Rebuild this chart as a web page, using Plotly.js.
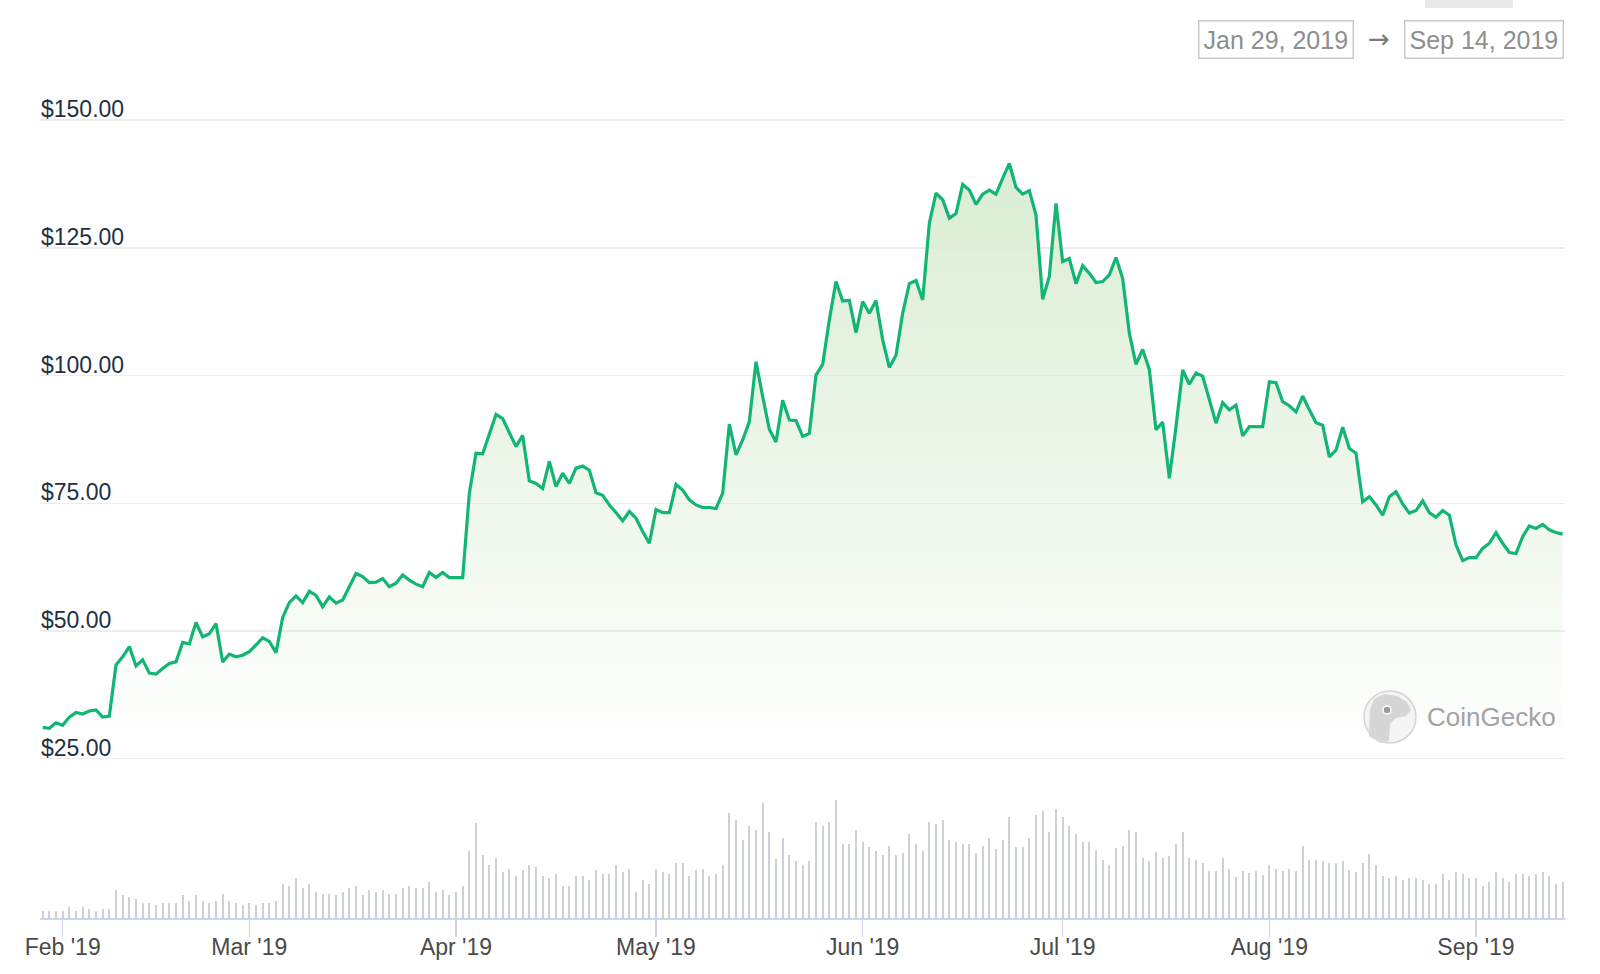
<!DOCTYPE html>
<html><head><meta charset="utf-8">
<script src="https://cdn.plot.ly/plotly-3.0.1.min.js"></script>
<style>html,body{margin:0;padding:0;background:#fff;} #chart{width:1600px;height:974px;}</style>
</head><body><div id="chart"></div>
<script>
// ---- data ----
const startDate = '2019-01-29';   // first daily point; one value per day
const prices = [
 31.2,31.0,32.1,31.6,33.2,34.1,33.8,34.4,34.6,33.2,33.4,
 43.4,45.0,47.0,43.2,44.4,41.8,41.6,42.7,43.7,44.0,
 47.8,47.5,51.7,48.9,49.5,51.5,44.0,45.5,45.0,45.3,
 46.0,47.3,48.7,48.0,45.8,52.7,55.6,56.9,55.6,57.8,
 57.0,54.8,56.7,55.5,56.1,58.7,61.3,60.7,59.5,59.6,
 60.3,58.7,59.4,61.0,60.0,59.2,58.7,61.5,60.5,61.5,
 60.5,60.5,60.5,77.0,84.8,84.7,88.4,92.4,91.6,89.0,
 86.1,88.3,79.4,78.9,77.9,83.2,78.3,80.9,78.9,81.9,
 82.3,81.5,77.1,76.6,74.7,73.2,71.6,73.4,72.1,69.5,
 67.2,73.8,73.2,73.2,78.7,77.6,75.7,74.7,74.2,74.2,
 74.0,77.0,90.5,84.5,87.4,91.0,102.7,95.9,89.5,87.0,
 95.2,91.3,91.2,88.1,88.7,100.1,102.2,110.9,118.4,114.6,
 114.7,108.4,114.5,112.2,114.7,107.0,101.6,104.0,112.2,118.0,
 118.6,114.8,129.8,135.7,134.4,130.8,131.7,137.4,136.3,133.5,
 135.5,136.3,135.5,138.6,141.5,136.8,135.5,136.2,131.4,114.9,
 119.4,133.7,122.3,122.9,118.0,121.5,120.0,118.2,118.4,119.7,
 123.1,119.0,108.3,102.2,105.1,101.2,89.4,90.9,79.9,90.0,
 101.1,98.3,100.5,99.9,95.2,90.7,94.7,93.3,94.2,88.2,
 90.0,90.0,90.0,98.8,98.6,94.9,94.1,92.9,96.0,93.3,
 90.8,90.3,84.1,85.4,89.9,85.8,84.8,75.3,76.3,74.7,
 72.7,76.3,77.3,74.9,73.1,73.6,75.5,73.2,72.3,73.6,
 72.7,66.9,63.8,64.4,64.4,66.2,67.2,69.3,67.2,65.4,
 65.2,68.5,70.6,70.1,70.9,69.8,69.3,69.0
];
// daily volume, billions USD
const volumes = [
 0.35,0.35,0.35,0.35,0.55,0.35,0.55,0.45,0.35,0.45,0.45,
 1.4,1.15,1.05,0.95,0.75,0.75,0.65,0.75,0.75,0.75,
 1.15,0.85,1.15,0.85,0.75,0.85,1.2,0.85,0.75,0.65,
 0.75,0.65,0.75,0.75,0.85,1.7,1.6,2.0,1.5,1.7,
 1.3,1.2,1.2,1.15,1.3,1.5,1.6,1.15,1.4,1.3,
 1.4,1.2,1.2,1.5,1.6,1.5,1.5,1.8,1.3,1.4,
 1.15,1.3,1.6,3.35,4.75,3.15,2.65,3.0,2.3,2.45,
 2.1,2.4,2.65,2.55,2.1,2.0,
 2.2,1.6,1.6,2.1,2.1,1.9,2.4,2.2,2.2,2.65,
 2.3,2.45,1.3,1.9,1.7,2.45,2.3,2.2,2.75,2.75,
 2.1,2.4,2.45,2.1,2.2,2.65,5.25,4.9,3.9,4.6,
 4.4,5.75,4.3,2.95,4.0,3.15,2.85,2.65,2.85,4.8,
 4.6,4.8,5.9,3.7,3.7,4.4,3.8,3.55,3.35,3.15,
 3.6,3.15,3.25,4.2,3.7,3.35,4.8,4.7,4.9,3.9,
 3.8,3.7,3.7,3.25,3.6,4.0,3.45,3.9,5.05,3.55,
 3.55,4.0,5.15,5.35,4.3,5.45,
 5.05,4.6,4.2,3.8,3.8,3.4,2.9,2.65,3.5,3.6,
 4.4,4.3,3.0,2.85,3.3,3.0,3.1,3.7,4.3,3.0,
 2.9,2.75,2.35,2.35,3.0,2.45,2.05,2.35,2.25,2.35,
 2.15,2.65,2.45,2.35,2.45,2.35,3.6,2.9,2.9,2.85,2.75,2.75,
 2.85,2.4,2.3,2.75,3.2,2.65,2.1,2.0,2.1,1.9,
 2.0,2.0,1.9,1.7,1.7,2.2,1.9,2.3,2.2,2.0,
 2.0,1.6,1.8,2.3,2.0,1.8,2.2,2.2,2.1,2.2,
 2.3,2.1,1.7,1.8
];
const priceTicks = [25, 50, 75, 100, 125, 150];
const rangeFrom = 'Jan 29, 2019';
const rangeTo = 'Sep 14, 2019';
const brand = 'CoinGecko';

// ---- build ----
const DAY = 86400000;
const t0 = new Date(startDate + 'T00:00:00Z').getTime();
const fmt = ms => new Date(ms).toISOString().replace('T', ' ').slice(0, 19);
const dates = prices.map((_, i) => fmt(t0 + i * DAY));
const tEnd = t0 + (prices.length - 1) * DAY;

// pixel -> paper helpers (plot area 40..1565 x 110..918)
const L = 40, R = 1565, T = 110, B = 918;
const px = x => (x - L) / (R - L);
const py = y => (B - y) / (B - T);
// price axis: $25 at y=759, $150 at y=120
const PPD = (759 - 120) / 125;
const pMin = 24.5, pMax = 151;
const priceDomain = [py(759 + (25 - pMin) * PPD), py(120 - (pMax - 150) * PPD)];

const FONT = 'Liberation Sans, Arial, Helvetica, sans-serif';
const green = '#12b574';

const traces = [
  {
    type: 'bar', x: dates, y: volumes, xaxis: 'x', yaxis: 'y2',
    marker: { color: '#cdd0d6', line: { width: 0 } },
    width: DAY * 0.3, hoverinfo: 'skip'
  },
  {
    type: 'scatter', mode: 'lines', x: dates, y: prices, xaxis: 'x', yaxis: 'y',
    line: { color: green, width: 3.2 },
    fill: 'tozeroy',
    fillgradient: {
      type: 'vertical', start: 25, stop: 142,
      colorscale: [[0, 'rgba(218,237,211,0)'], [1, 'rgba(218,237,211,1)']]
    },
    hoverinfo: 'skip'
  }
];

const gecko = [[1369,736],[1370,710],[1374,699],[1384,694],[1397,696],[1407,702],[1411,710],[1406,716],[1396,718],[1390,724],[1389,741],[1380,743]];
const geckoPath = 'M ' + gecko.map(p => px(p[0]) + ',' + py(p[1])).join(' L ') + ' Z';

const layout = {
  width: 1600, height: 974,
  paper_bgcolor: '#ffffff', plot_bgcolor: '#ffffff',
  margin: { l: L, r: 1600 - R, t: T, b: 974 - B, pad: 0 },
  showlegend: false,
  bargap: 0,
  font: { family: FONT },
  xaxis: {
    type: 'date', anchor: 'y2',
    range: [fmt(t0 - 0.4 * DAY), fmt(tEnd + 0.35 * DAY)],
    tick0: '2019-02-01', dtick: 'M1', tickformat: "%b '%y",
    showgrid: false, zeroline: false,
    showline: true, linecolor: '#ccd6eb', linewidth: 1.5,
    ticks: 'outside', ticklen: 17, tickwidth: 1.5, tickcolor: '#ccd6eb',
    ticklabelstandoff: -9,
    tickfont: { family: FONT, size: 23, color: '#4a4a4a' },
    fixedrange: true
  },
  yaxis: {
    domain: priceDomain, anchor: 'x',
    range: [pMin, pMax],
    tickvals: priceTicks, ticktext: priceTicks.map(v => '$' + v.toFixed(2)),
    ticklabelposition: 'inside', ticklabelshift: -11, ticklabelstandoff: -2,
    ticklabeloverflow: 'allow',
    ticks: '', showline: false, zeroline: false,
    showgrid: true, gridcolor: '#ececec', gridwidth: 1.5,
    tickfont: { family: FONT, size: 23, color: '#243042' },
    fixedrange: true
  },
  yaxis2: {
    domain: [0, py(759)], anchor: 'x',
    range: [0, 7.95],
    visible: false, showgrid: false, zeroline: false, fixedrange: true
  },
  shapes: [
    { type: 'rect', xref: 'paper', yref: 'paper', x0: px(1425), x1: px(1513), y0: py(8), y1: py(-4),
      fillcolor: '#e9e9e9', line: { width: 0 } },
    { type: 'circle', xref: 'paper', yref: 'paper', x0: px(1364), x1: px(1416), y0: py(743), y1: py(691),
      fillcolor: '#f4f4f4', line: { color: '#d4d4d4', width: 1.5 } },
    { type: 'path', xref: 'paper', yref: 'paper', path: geckoPath,
      fillcolor: '#d6d6d6', line: { width: 0 } },
    { type: 'circle', xref: 'paper', yref: 'paper', x0: px(1383), x1: px(1391), y0: py(714), y1: py(706),
      fillcolor: '#9a9a9a', line: { color: '#ffffff', width: 1.5 } }
  ],
  annotations: [
    { xref: 'paper', yref: 'paper', x: px(1276), y: py(39.5), xanchor: 'center', yanchor: 'middle',
      text: rangeFrom, showarrow: false,
      font: { family: FONT, size: 25, color: '#8e8e8e' },
      bordercolor: '#c9c9c9', borderwidth: 1.5, borderpad: 4, bgcolor: '#ffffff' },
    { xref: 'paper', yref: 'paper', x: px(1379), y: py(39), xanchor: 'center', yanchor: 'middle',
      text: '→', showarrow: false,
      font: { family: 'DejaVu Sans, sans-serif', size: 26, color: '#7a7a7a' } },
    { xref: 'paper', yref: 'paper', x: px(1484), y: py(39.5), xanchor: 'center', yanchor: 'middle',
      text: rangeTo, showarrow: false,
      font: { family: FONT, size: 25, color: '#8e8e8e' },
      bordercolor: '#c9c9c9', borderwidth: 1.5, borderpad: 4, bgcolor: '#ffffff' },
    { xref: 'paper', yref: 'paper', x: px(1425), y: py(717), xanchor: 'left', yanchor: 'middle',
      text: brand, showarrow: false,
      font: { family: FONT, size: 26, color: '#a3a3a3' } }
  ]
};

Plotly.newPlot('chart', traces, layout, { staticPlot: true, displayModeBar: false });
</script>
</body></html>
